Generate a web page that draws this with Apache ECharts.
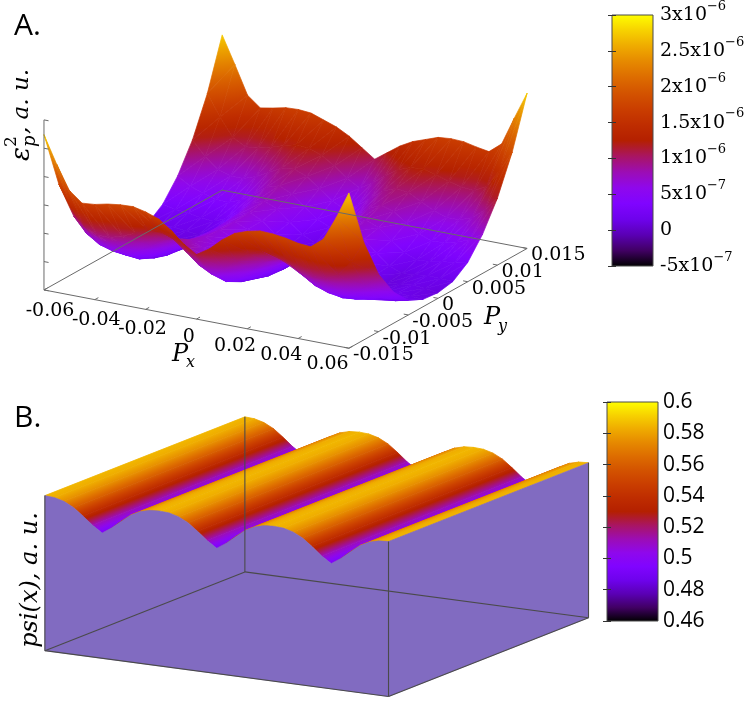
<!DOCTYPE html>
<html>
<head>
<meta charset="utf-8">
<script src="https://cdn.jsdelivr.net/npm/echarts@6/dist/echarts.min.js"></script>
<style>
  html, body { margin: 0; padding: 0; background: #fff; }
  #chart { width: 752px; height: 720px; }
</style>
</head>
<body>
<div id="chart"></div>
<script>
// ---- panel A: eps_p^2 (units of 1e-6) over (Px, Py) ----
const pxValues = [-0.06, -0.055, -0.05, -0.045, -0.04, -0.035, -0.03, -0.025, -0.02, -0.015, -0.01, -0.005, 0,
                  0.005, 0.01, 0.015, 0.02, 0.025, 0.03, 0.035, 0.04, 0.045, 0.05, 0.055, 0.06];
const pyValues = [-0.015, -0.0125, -0.01, -0.0075, -0.005, -0.0025, 0, 0.0025, 0.005, 0.0075, 0.01, 0.0125, 0.015];
// one row per Py value, one column per Px value
const eps2Grid = [
  [2.74, 2.26, 1.84, 1.66, 1.68, 1.73, 1.76, 1.77, 1.72, 1.64, 1.48, 1.28, 1.14, 1.28, 1.48, 1.64, 1.72, 1.77, 1.76, 1.73, 1.68, 1.66, 1.84, 2.26, 2.74],
  [1.72, 1.33, 1.06, 0.95, 0.95, 1.02, 1.11, 1.21, 1.23, 1.14, 0.96, 0.77, 0.65, 0.77, 0.96, 1.14, 1.23, 1.21, 1.11, 1.02, 0.95, 0.95, 1.06, 1.33, 1.72],
  [1.01, 0.75, 0.60, 0.53, 0.52, 0.60, 0.74, 0.89, 0.95, 0.85, 0.66, 0.48, 0.37, 0.48, 0.66, 0.85, 0.95, 0.89, 0.74, 0.60, 0.52, 0.53, 0.60, 0.75, 1.01],
  [0.55, 0.41, 0.34, 0.30, 0.28, 0.37, 0.53, 0.71, 0.79, 0.69, 0.50, 0.32, 0.22, 0.32, 0.50, 0.69, 0.79, 0.71, 0.53, 0.37, 0.28, 0.30, 0.34, 0.41, 0.55],
  [0.26, 0.21, 0.20, 0.17, 0.15, 0.24, 0.41, 0.61, 0.70, 0.60, 0.41, 0.22, 0.13, 0.22, 0.41, 0.60, 0.70, 0.61, 0.41, 0.24, 0.15, 0.17, 0.20, 0.21, 0.26],
  [0.13, 0.14, 0.16, 0.13, 0.11, 0.20, 0.38, 0.57, 0.67, 0.57, 0.37, 0.19, 0.10, 0.19, 0.37, 0.57, 0.67, 0.57, 0.38, 0.20, 0.11, 0.13, 0.16, 0.14, 0.13],
  [0.10, 0.13, 0.15, 0.12, 0.10, 0.19, 0.37, 0.57, 0.67, 0.57, 0.37, 0.19, 0.10, 0.19, 0.37, 0.57, 0.67, 0.57, 0.37, 0.19, 0.10, 0.12, 0.15, 0.13, 0.10],
  [0.15, 0.16, 0.17, 0.14, 0.12, 0.21, 0.39, 0.59, 0.68, 0.58, 0.39, 0.21, 0.11, 0.21, 0.39, 0.58, 0.68, 0.59, 0.39, 0.21, 0.12, 0.14, 0.17, 0.16, 0.15],
  [0.34, 0.29, 0.27, 0.23, 0.21, 0.30, 0.47, 0.65, 0.74, 0.64, 0.45, 0.27, 0.17, 0.27, 0.45, 0.64, 0.74, 0.65, 0.47, 0.30, 0.21, 0.23, 0.27, 0.29, 0.34],
  [0.69, 0.55, 0.47, 0.41, 0.40, 0.48, 0.63, 0.79, 0.86, 0.76, 0.57, 0.40, 0.30, 0.40, 0.57, 0.76, 0.86, 0.79, 0.63, 0.48, 0.40, 0.41, 0.47, 0.55, 0.69],
  [1.18, 0.93, 0.75, 0.67, 0.67, 0.75, 0.86, 0.98, 1.01, 0.92, 0.75, 0.58, 0.46, 0.58, 0.75, 0.92, 1.01, 0.98, 0.86, 0.75, 0.67, 0.67, 0.75, 0.93, 1.18],
  [1.85, 1.48, 1.16, 1.04, 1.06, 1.12, 1.19, 1.25, 1.23, 1.15, 1.00, 0.83, 0.70, 0.83, 1.00, 1.15, 1.23, 1.25, 1.19, 1.12, 1.06, 1.04, 1.16, 1.48, 1.85],
  [2.74, 2.26, 1.76, 1.58, 1.62, 1.67, 1.68, 1.66, 1.58, 1.50, 1.38, 1.22, 1.06, 1.22, 1.38, 1.50, 1.58, 1.66, 1.68, 1.67, 1.62, 1.58, 1.76, 2.26, 2.74]
];
const pxTicks = [-0.06, -0.04, -0.02, 0, 0.02, 0.04, 0.06];
const pxTickLabels = ['-0.06', '-0.04', '-0.02', '0', '0.02', '0.04', '0.06'];
const pyTicks = [-0.015, -0.01, -0.005, 0, 0.005, 0.01, 0.015];
const pyTickLabels = ['-0.015', '-0.01', '-0.005', '0', '0.005', '0.01', '0.015'];
const zTicksA = [0, 0.5, 1, 1.5, 2, 2.5, 3];
const cbATicks = [-0.5, 0, 0.5, 1, 1.5, 2, 2.5, 3];
const cbALabels = [['-5x10', '\u22127'], ['0', ''], ['5x10', '\u22127'], ['1x10', '\u22126'], ['1.5x10', '\u22126'],
                   ['2x10', '\u22126'], ['2.5x10', '\u22126'], ['3x10', '\u22126']];

// ---- panel B: psi(x), constant along the second axis ----
const psiValues = [0.585, 0.583, 0.575, 0.560, 0.537, 0.512, 0.492, 0.512, 0.537, 0.560, 0.575, 0.583,
                   0.585, 0.583, 0.575, 0.560, 0.537, 0.512, 0.492, 0.512, 0.537, 0.560, 0.575, 0.583,
                   0.585, 0.583, 0.575, 0.560, 0.537, 0.512, 0.492, 0.512, 0.537, 0.560, 0.575, 0.583,
                   0.585];
const cbBTicks = [0.46, 0.48, 0.5, 0.52, 0.54, 0.56, 0.58, 0.6];
const cbBLabels = ['0.46', '0.48', '0.5', '0.52', '0.54', '0.56', '0.58', '0.6'];

// gnuplot-like palette, black -> violet -> red -> yellow
const paletteStops = ['#000000', '#400062', '#5a00b4', '#6e02ec', '#8004ff', '#8f08ec', '#9c0db4', '#a91562',
                      '#b42000', '#bf2d00', '#ca3e00', '#d35300', '#dd6c00', '#e68900', '#efab00', '#f7d200', '#ffff00'];
const paletteRgb = paletteStops.map(h => [parseInt(h.slice(1, 3), 16), parseInt(h.slice(3, 5), 16), parseInt(h.slice(5, 7), 16)]);
function paletteAt(t) {
  t = Math.max(0, Math.min(1, t));
  const f = t * (paletteRgb.length - 1);
  const k = Math.min(paletteRgb.length - 2, Math.floor(f));
  const r = f - k;
  const a = paletteRgb[k], b = paletteRgb[k + 1];
  return 'rgb(' + [0, 1, 2].map(c => Math.round(a[c] + (b[c] - a[c]) * r)).join(',') + ')';
}

// orthographic view: azimuth theta, elevation phi, half box height hz (box half width = 1)
function makeView(theta, phi, hz) {
  const t = theta * Math.PI / 180, p = phi * Math.PI / 180;
  return { ct: Math.cos(t), st: Math.sin(t), sp: Math.sin(p), cp: Math.cos(p), hz: hz };
}
function proj(view, u, v, w) {
  return [u * view.ct + v * view.st, (-u * view.st + v * view.ct) * view.sp + w * view.hz * view.cp];
}
function depth(view, u, v) { return v * view.ct - u * view.st; }

const viewA = makeView(30.3, 19.1, 0.5095);
const viewB = makeView(30.2, 13.25, 0.413);

const pxMin = pxValues[0], pxMax = pxValues[pxValues.length - 1];
const pyMin = pyValues[0], pyMax = pyValues[pyValues.length - 1];
const zMinA = 0, zMaxA = 3;
const nu = x => 2 * (x - pxMin) / (pxMax - pxMin) - 1;
const nv = y => 2 * (y - pyMin) / (pyMax - pyMin) - 1;
const nwA = z => 2 * (z - zMinA) / (zMaxA - zMinA) - 1;
const tA = z => (z - cbATicks[0]) / (cbATicks[cbATicks.length - 1] - cbATicks[0]);

const zMinB = 0.1, zMaxB = 0.6;
const nuB = k => -1 + 2 * k / (psiValues.length - 1);
const nwB = z => 2 * (z - zMinB) / (zMaxB - zMinB) - 1;
const tB = z => (z - cbBTicks[0]) / (cbBTicks[cbBTicks.length - 1] - cbBTicks[0]);

function gradientBetween(a, b, z0, z1, toT) {
  if (Math.hypot(b[0] - a[0], b[1] - a[1]) < 0.5 || Math.abs(z1 - z0) < 1e-9) {
    return paletteAt(toT((z0 + z1) / 2));
  }
  const stops = [0, 0.25, 0.5, 0.75, 1].map(f => ({ offset: f, color: paletteAt(toT(z0 + (z1 - z0) * f)) }));
  return new echarts.graphic.LinearGradient(a[0], a[1], b[0], b[1], stops, true);
}

// colour of a flat triangle: the value is linear on screen, so follow its gradient
function triangleFill(P, Z, toT) {
  const zlo = Math.min(Z[0], Z[1], Z[2]), zhi = Math.max(Z[0], Z[1], Z[2]);
  if (zhi - zlo < 1e-9) return paletteAt(toT(zlo));
  const x1 = P[1][0] - P[0][0], y1 = P[1][1] - P[0][1];
  const x2 = P[2][0] - P[0][0], y2 = P[2][1] - P[0][1];
  const dz1 = Z[1] - Z[0], dz2 = Z[2] - Z[0];
  const det = x1 * y2 - x2 * y1;
  if (Math.abs(det) < 1e-3) {
    const lo = Z.indexOf(zlo), hi = Z.indexOf(zhi);
    return gradientBetween(P[lo], P[hi], zlo, zhi, toT);
  }
  const gx = (dz1 * y2 - dz2 * y1) / det, gy = (x1 * dz2 - x2 * dz1) / det;
  const g2 = gx * gx + gy * gy;
  const s0 = (zlo - Z[0]) / g2, s1 = (zhi - Z[0]) / g2;
  return gradientBetween([P[0][0] + gx * s0, P[0][1] + gy * s0], [P[0][0] + gx * s1, P[0][1] + gy * s1], zlo, zhi, toT);
}

// cells of panel A, far ones first
const cellsA = [];
for (let j = 0; j < pyValues.length - 1; j++) {
  for (let i = 0; i < pxValues.length - 1; i++) {
    const uc = (nu(pxValues[i]) + nu(pxValues[i + 1])) / 2;
    const vc = (nv(pyValues[j]) + nv(pyValues[j + 1])) / 2;
    cellsA.push([i, j, depth(viewA, uc, vc)]);
  }
}
cellsA.sort((a, b) => b[2] - a[2]);

function renderSurfaceA(params, api) {
  const i = api.value(0), j = api.value(1);
  const corners = [[i, j], [i + 1, j], [i + 1, j + 1], [i, j + 1]];
  const zs = corners.map(c => eps2Grid[c[1]][c[0]]);
  const pts = corners.map((c, k) => api.coord(proj(viewA, nu(pxValues[c[0]]), nv(pyValues[c[1]]), nwA(zs[k]))));
  const tris = [[0, 1, 2], [0, 2, 3]];
  return {
    type: 'group',
    children: tris.map(t => {
      const P = t.map(k => pts[k]), Z = t.map(k => zs[k]);
      const fill = triangleFill(P, Z, tA);
      return { type: 'polygon', shape: { points: P }, style: { fill: fill, stroke: fill, lineWidth: 0.7 } };
    })
  };
}

// box lines of panel A
const segsA = [
  [-1, -1, -1, 1, -1, -1], [1, -1, -1, 1, 1, -1], [1, 1, -1, -1, 1, -1], [-1, 1, -1, -1, -1, -1],
  [-1, -1, -1, -1, -1, 1]
];
zTicksA.forEach(z => segsA.push([-1, -1, nwA(z), -0.97, -1, nwA(z)]));
pxTicks.forEach(x => segsA.push([nu(x), -1, -1, nu(x), -0.96, -1]));
pyTicks.forEach(y => segsA.push([1, nv(y), -1, 0.97, nv(y), -1]));

function lineRenderer(view, color, width) {
  return function (params, api) {
    const s = [0, 1, 2, 3, 4, 5].map(k => api.value(k));
    const a = api.coord(proj(view, s[0], s[1], s[2]));
    const b = api.coord(proj(view, s[3], s[4], s[5]));
    return { type: 'line', shape: { x1: a[0], y1: a[1], x2: b[0], y2: b[1] }, style: { stroke: color, lineWidth: width } };
  };
}

const tickFont = '19px "DejaVu Serif"';
function renderPxLabel(params, api) {
  const k = api.value(0);
  const p = api.coord(proj(viewA, 0.91 * nu(pxTicks[k]) + 0.02, -1.12, -1.14));
  return { type: 'text', x: p[0], y: p[1], style: { text: pxTickLabels[k], font: tickFont, fill: '#000', align: 'center', verticalAlign: 'middle' } };
}
function renderPyLabel(params, api) {
  const k = api.value(0);
  const p = api.coord(proj(viewA, 1, nv(pyTicks[k]), -1));
  return { type: 'text', x: p[0] + 4, y: p[1] + 7, style: { text: pyTickLabels[k], font: tickFont, fill: '#000', align: 'left', verticalAlign: 'middle' } };
}

// strips of panel B, far ones first
const stripsB = psiValues.slice(0, -1).map((z, k) => [k]);
function renderStripB(params, api) {
  const k = api.value(0);
  const u0 = nuB(k), u1 = nuB(k + 1);
  const w0 = nwB(psiValues[k]), w1 = nwB(psiValues[k + 1]);
  const pts = [
    api.coord(proj(viewB, u0, -1, w0)), api.coord(proj(viewB, u1, -1, w1)),
    api.coord(proj(viewB, u1, 1, w1)), api.coord(proj(viewB, u0, 1, w0))
  ];
  // gradient perpendicular to the strip direction on screen
  const a = pts[0];
  const ey = [pts[3][0] - a[0], pts[3][1] - a[1]];
  const len = Math.hypot(ey[0], ey[1]);
  const n = [-ey[1] / len, ey[0] / len];
  const d = [pts[1][0] - a[0], pts[1][1] - a[1]];
  const s = d[0] * n[0] + d[1] * n[1];
  const b = [a[0] + s * n[0], a[1] + s * n[1]];
  const fill = gradientBetween(a, b, psiValues[k], psiValues[k + 1], tB);
  return { type: 'polygon', shape: { points: pts }, style: { fill: fill, stroke: fill, lineWidth: 0.8 } };
}

const faceColor = '#816bc1';
function renderFacesB(params, api) {
  const which = api.value(0);
  const last = psiValues.length - 1;
  let pts;
  if (which === 0) {
    pts = psiValues.map((z, k) => api.coord(proj(viewB, nuB(k), -1, nwB(z))));
    pts.push(api.coord(proj(viewB, 1, -1, -1)), api.coord(proj(viewB, -1, -1, -1)));
  } else {
    pts = [
      api.coord(proj(viewB, 1, -1, -1)), api.coord(proj(viewB, 1, 1, -1)),
      api.coord(proj(viewB, 1, 1, nwB(psiValues[last]))), api.coord(proj(viewB, 1, -1, nwB(psiValues[last])))
    ];
  }
  return { type: 'polygon', shape: { points: pts }, style: { fill: faceColor, stroke: faceColor, lineWidth: 0.5 } };
}

const wB0 = nwB(psiValues[0]), wB1 = nwB(psiValues[psiValues.length - 1]);
const segsB = [
  [-1, -1, -1, 1, -1, -1], [1, -1, -1, 1, 1, -1], [1, 1, -1, -1, 1, -1], [-1, 1, -1, -1, -1, -1],
  [-1, 1, -1, -1, 1, wB0], [1, -1, -1, 1, -1, wB1], [1, 1, -1, 1, 1, wB1], [-1, -1, -1, -1, -1, wB0]
];

function renderColorbar(params, api) {
  const top = api.coord([0, api.value(1)]);
  const bottom = api.coord([1, api.value(0)]);
  const stops = paletteStops.map((c, k) => ({ offset: 1 - k / (paletteStops.length - 1), color: c })).reverse();
  return {
    type: 'rect',
    shape: { x: top[0], y: top[1], width: bottom[0] - top[0], height: bottom[1] - top[1] },
    style: { fill: new echarts.graphic.LinearGradient(0, 0, 0, 1, stops), stroke: '#4a4a4a', lineWidth: 1 }
  };
}

const hiddenAxis = (min, max, gridIndex) => ({ type: 'value', gridIndex: gridIndex, min: min, max: max, show: false });
const cbTick = { inside: true, length: 4, lineStyle: { color: '#333' } };

const chart = echarts.init(document.getElementById('chart'));
const option = {
  animation: false,
  backgroundColor: '#fff',
  grid: [
    { left: 3, top: 2.3, width: 565.1, height: 402.6 },
    { left: 18.5, top: 383.3, width: 596.4, height: 334 },
    { left: 612, top: 15, width: 41, height: 251 },
    { left: 607, top: 402, width: 51, height: 219 }
  ],
  xAxis: [
    hiddenAxis(-1.6, 1.6, 0),
    hiddenAxis(-1.5, 1.5, 1),
    hiddenAxis(0, 1, 2),
    hiddenAxis(0, 1, 3)
  ],
  yAxis: [
    hiddenAxis(-1.25, 1.03, 0),
    hiddenAxis(-0.82, 0.86, 1),
    {
      type: 'value', gridIndex: 2, position: 'right', min: cbATicks[0], max: cbATicks[cbATicks.length - 1], interval: 0.5, z: 5,
      axisLine: { show: false }, splitLine: { show: false }, axisTick: cbTick,
      axisLabel: {
        margin: 7, color: '#000',
        formatter: v => {
          const lab = cbALabels[Math.round((v - cbATicks[0]) / 0.5)];
          return lab[1] ? '{m|' + lab[0] + '}{e|' + lab[1] + '}' : '{m|' + lab[0] + '}';
        },
        rich: {
          m: { fontFamily: 'DejaVu Serif', fontSize: 19, lineHeight: 30, color: '#000' },
          e: { fontFamily: 'DejaVu Serif', fontSize: 13, lineHeight: 16, verticalAlign: 'top', color: '#000' }
        }
      }
    },
    {
      type: 'value', gridIndex: 2, position: 'left', min: cbATicks[0], max: cbATicks[cbATicks.length - 1], interval: 0.5, z: 5,
      axisLine: { show: false }, splitLine: { show: false }, axisTick: cbTick, axisLabel: { show: false }
    },
    {
      type: 'value', gridIndex: 3, position: 'right', min: cbBTicks[0], max: cbBTicks[cbBTicks.length - 1], interval: 0.02, z: 5,
      axisLine: { show: false }, splitLine: { show: false }, axisTick: cbTick,
      axisLabel: {
        margin: 5, color: '#000', fontFamily: 'Open Sans', fontSize: 21,
        formatter: v => cbBLabels[Math.round((v - cbBTicks[0]) / 0.02)]
      }
    },
    {
      type: 'value', gridIndex: 3, position: 'left', min: cbBTicks[0], max: cbBTicks[cbBTicks.length - 1], interval: 0.02, z: 5,
      axisLine: { show: false }, splitLine: { show: false }, axisTick: cbTick, axisLabel: { show: false }
    }
  ],
  series: [
    { type: 'custom', xAxisIndex: 0, yAxisIndex: 0, z: 2, clip: false, silent: true, progressive: 0, renderItem: renderSurfaceA, data: cellsA },
    { type: 'custom', xAxisIndex: 0, yAxisIndex: 0, z: 3, clip: false, silent: true, renderItem: lineRenderer(viewA, '#6a6a6a', 1), data: segsA },
    { type: 'custom', xAxisIndex: 0, yAxisIndex: 0, z: 4, clip: false, silent: true, renderItem: renderPxLabel, data: pxTicks.map((t, k) => [k]) },
    { type: 'custom', xAxisIndex: 0, yAxisIndex: 0, z: 4, clip: false, silent: true, renderItem: renderPyLabel, data: pyTicks.map((t, k) => [k]) },
    { type: 'custom', xAxisIndex: 1, yAxisIndex: 1, z: 2, clip: false, silent: true, progressive: 0, renderItem: renderStripB, data: stripsB },
    { type: 'custom', xAxisIndex: 1, yAxisIndex: 1, z: 3, clip: false, silent: true, renderItem: renderFacesB, data: [[0], [1]] },
    { type: 'custom', xAxisIndex: 1, yAxisIndex: 1, z: 4, clip: false, silent: true, renderItem: lineRenderer(viewB, '#4a4a4a', 1.1), data: segsB },
    { type: 'custom', xAxisIndex: 2, yAxisIndex: 2, z: 2, clip: false, silent: true, renderItem: renderColorbar, data: [[cbATicks[0], cbATicks[cbATicks.length - 1]]] },
    { type: 'custom', xAxisIndex: 3, yAxisIndex: 4, z: 2, clip: false, silent: true, renderItem: renderColorbar, data: [[cbBTicks[0], cbBTicks[cbBTicks.length - 1]]] }
  ],
  graphic: [
    { type: 'text', left: 14, top: 11, style: { text: 'A.', font: '30px "Open Sans"', fill: '#000' } },
    { type: 'text', left: 14, top: 403, style: { text: 'B.', font: '30px "Open Sans"', fill: '#000' } },
    {
      type: 'group', x: 22, y: 112, rotation: Math.PI / 2,
      children: [
        { type: 'text', x: -49, y: 0, style: { text: '\u03B5', font: 'italic 26px "DejaVu Serif"', fill: '#000', align: 'left', verticalAlign: 'middle' } },
        { type: 'text', x: -35, y: 8, style: { text: 'p', font: 'italic 18px "DejaVu Serif"', fill: '#000', align: 'left', verticalAlign: 'middle' } },
        { type: 'text', x: -35, y: -10, style: { text: '2', font: '17px "DejaVu Serif"', fill: '#000', align: 'left', verticalAlign: 'middle' } },
        { type: 'text', x: -22, y: 0, style: { text: ', a. u.', font: 'italic 23px "DejaVu Serif"', fill: '#000', align: 'left', verticalAlign: 'middle' } }
      ]
    },
    {
      type: 'group', x: 31, y: 580, rotation: Math.PI / 2,
      children: [
        { type: 'text', x: 0, y: 0, style: { text: 'psi(x), a. u.', font: 'italic 24px "DejaVu Serif"', fill: '#000', align: 'center', verticalAlign: 'middle' } }
      ]
    },
    { type: 'text', x: 172, y: 355, style: { text: 'P', font: 'italic 24px "DejaVu Serif"', fill: '#000', align: 'left', verticalAlign: 'middle' } },
    { type: 'text', x: 186, y: 363, style: { text: 'x', font: 'italic 16px "DejaVu Serif"', fill: '#000', align: 'left', verticalAlign: 'middle' } },
    { type: 'text', x: 484, y: 318, style: { text: 'P', font: 'italic 24px "DejaVu Serif"', fill: '#000', align: 'left', verticalAlign: 'middle' } },
    { type: 'text', x: 498, y: 327, style: { text: 'y', font: 'italic 16px "DejaVu Serif"', fill: '#000', align: 'left', verticalAlign: 'middle' } }
  ]
};
chart.setOption(option);
</script>
</body>
</html>
